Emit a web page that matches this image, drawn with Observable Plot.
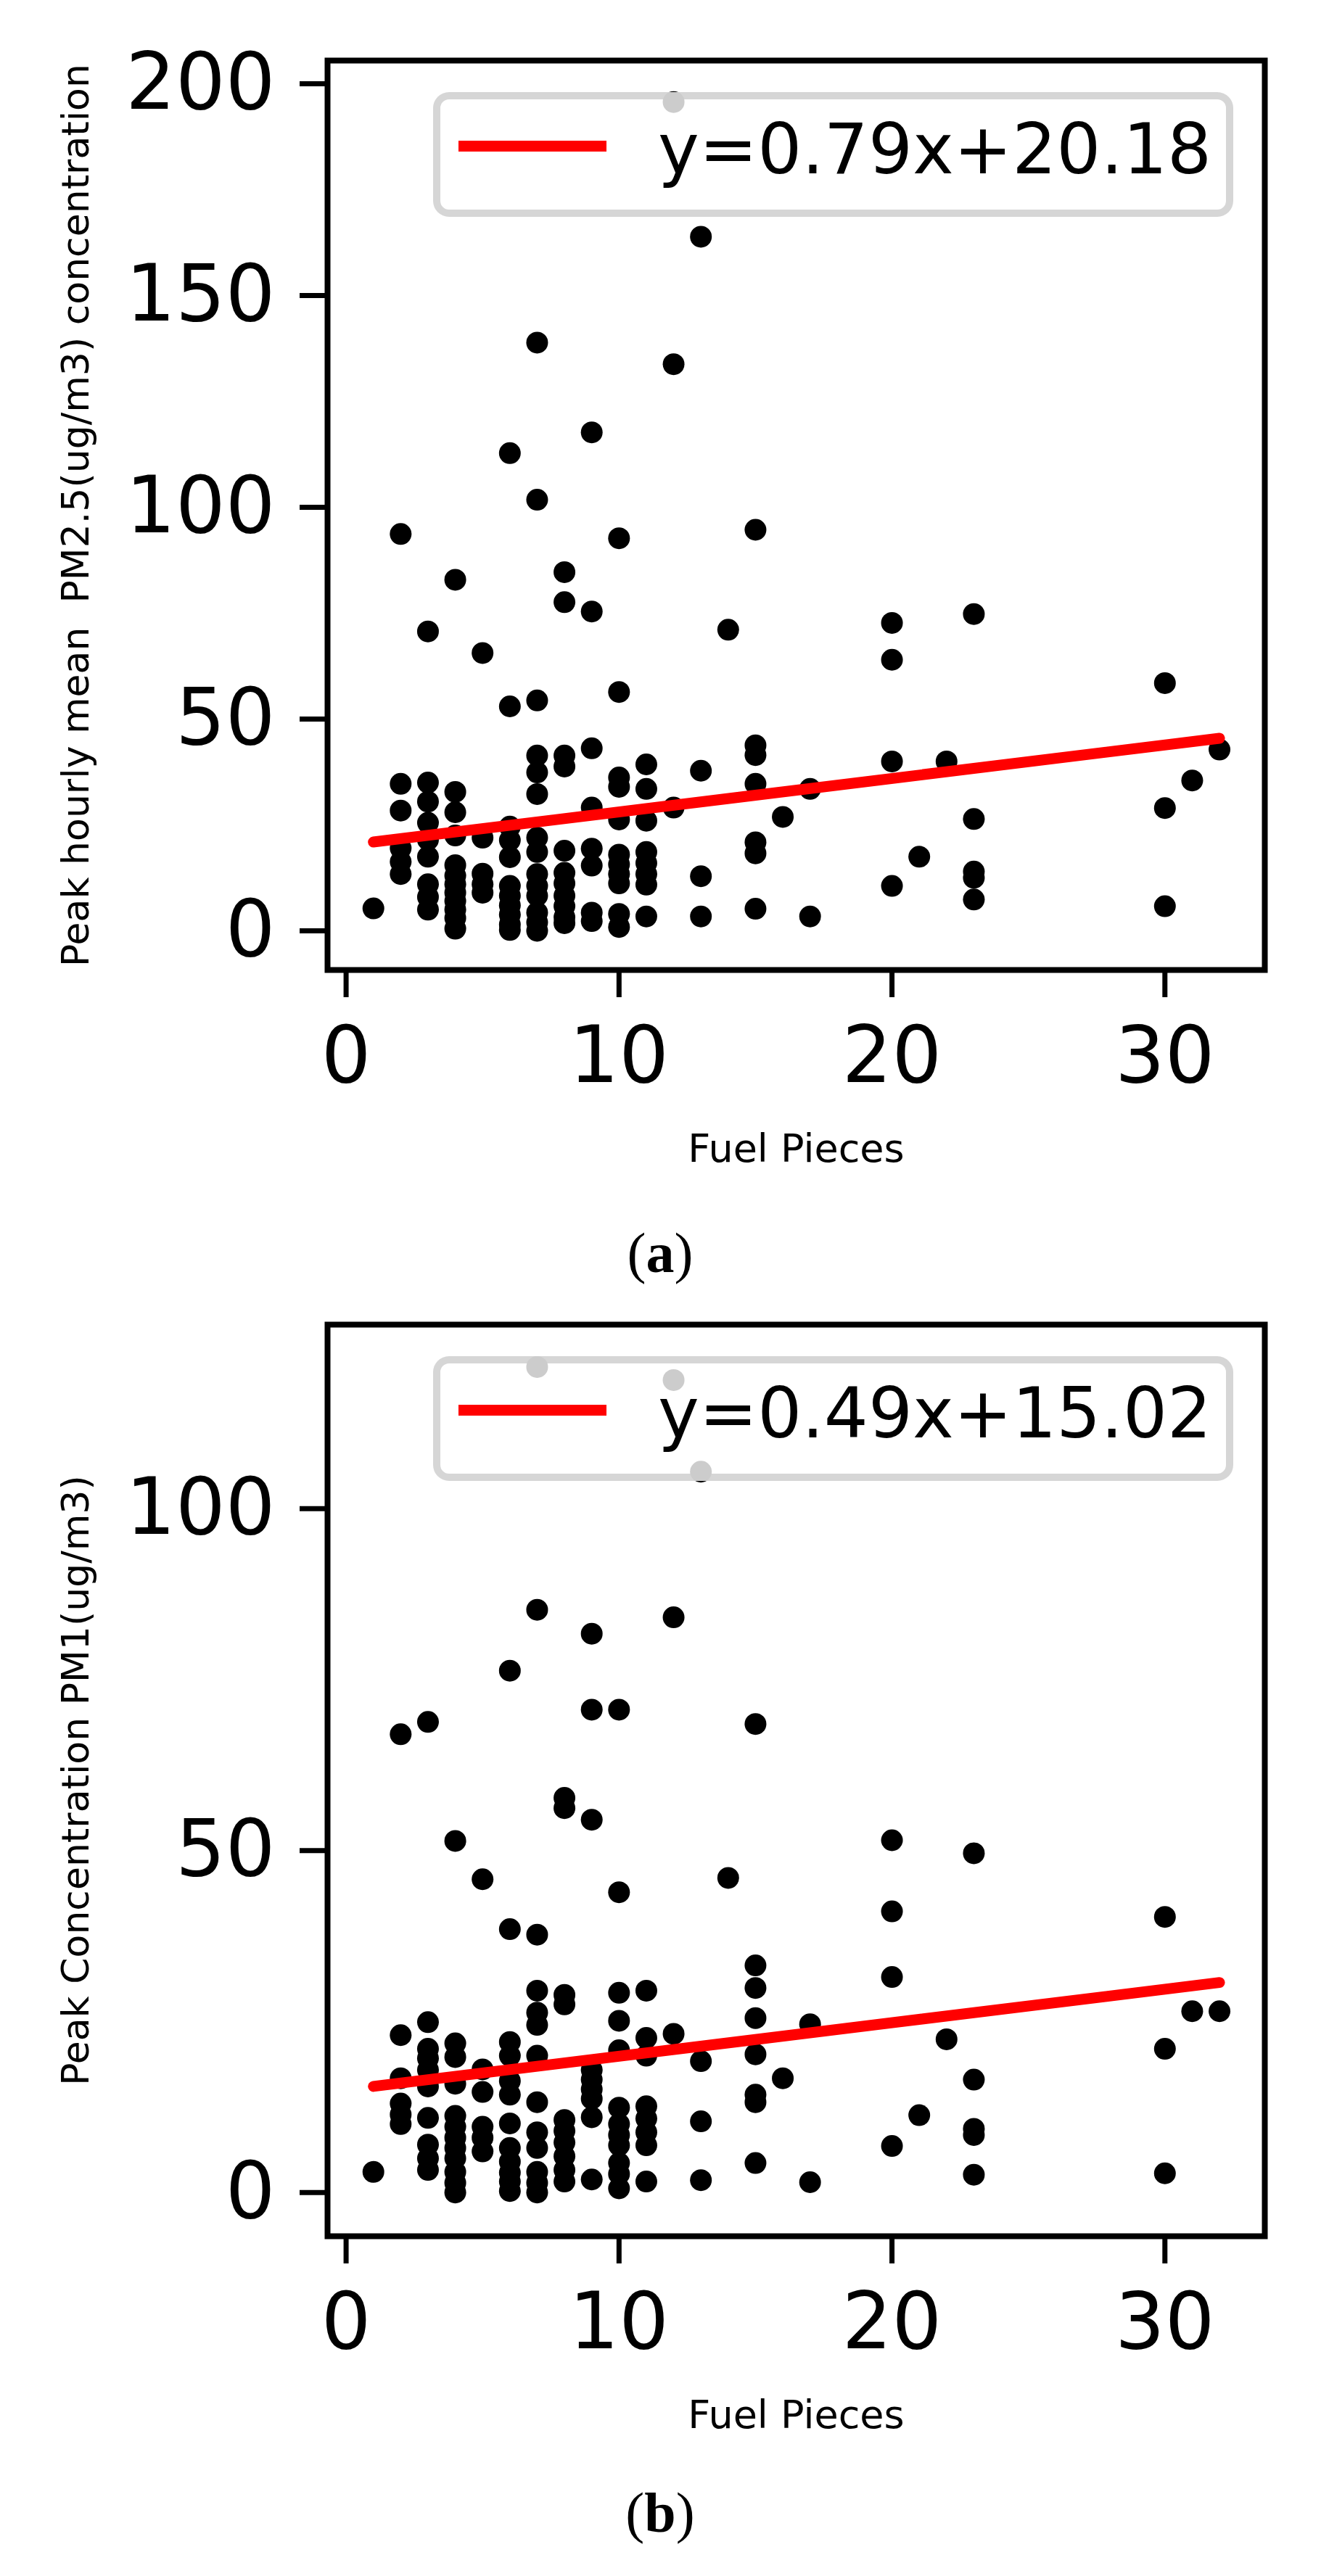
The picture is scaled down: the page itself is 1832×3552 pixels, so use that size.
<!DOCTYPE html>
<html>
<head>
<meta charset="utf-8">
<script src="https://cdn.jsdelivr.net/npm/d3@7"></script>
<script src="https://cdn.jsdelivr.net/npm/@observablehq/plot@0.6"></script>
<style>
html, body { margin: 0; padding: 0; background: #fff; overflow: hidden; }
#page { position: relative; width: 1832px; height: 3552px; background: #fff; overflow: hidden; }
.panel { position: absolute; left: 0; width: 1832px; }
.panel svg { display: block; }
.legend { position: absolute; left: 597px; top: 127px; width: 1103px; height: 172px; box-sizing: border-box;
  border: 10px solid rgba(204,204,204,0.8); border-radius: 22px; background: rgba(255,255,255,0.8); }
.legend .swatch { position: absolute; left: 25px; top: 57px; width: 204px; height: 15px; background: #ff0000; }
.legend .label { position: absolute; left: 300px; top: 21px; font-family: "DejaVu Sans", sans-serif; font-size: 96px;
  line-height: 1; color: #000; white-space: nowrap; }
.caption { position: absolute; left: 0; width: 1820px; text-align: center; font-family: "Liberation Serif", "DejaVu Serif", serif;
  font-size: 78px; line-height: 1; color: #000; }
</style>
</head>
<body>
<div id="page"></div>
<script>
// ---------- Data ----------
// Panel (a): Peak hourly mean PM2.5 vs fuel pieces, grouped by number of fuel pieces
const pm25ByFuel = [
  [1, [5.3]],
  [2, [93.7, 34.7, 28.4, 19.5, 16.3, 13.4]],
  [3, [70.7, 35, 30.5, 25.5, 21.5, 17.5, 11, 8, 5]],
  [4, [82.9, 32.8, 28, 22.5, 15.5, 13, 11, 9, 7, 5, 3, 0.5]],
  [5, [65.6, 22, 13.5, 11, 9]],
  [6, [112.8, 53, 24.6, 21.4, 17.4, 10.6, 8.3, 6, 3.8, 1.5, 0.2]],
  [7, [138.9, 101.8, 54.4, 41.4, 37.4, 32.3, 22, 18.6, 13.4, 10.6, 8.3, 4.3, 2, 0]],
  [8, [84.7, 77.6, 41.4, 38.8, 18.9, 13.7, 11.2, 8.3, 5.8, 3.2, 1.8]],
  [9, [117.7, 75.4, 43.1, 29.1, 19.4, 15.4, 4.3, 2.3]],
  [10, [92.7, 56.4, 36.2, 34, 26.3, 18, 15.7, 13.4, 11.2, 4, 0.9]],
  [11, [39.3, 33.5, 26, 18.6, 16, 13.4, 10.9, 3.4]],
  [12, [195.7, 133.8, 29.1]],
  [13, [163.9, 37.8, 12.9, 3.4]],
  [14, [71.1]],
  [15, [94.7, 43.8, 41.5, 34.7, 20.9, 18.3, 5.2]],
  [16, [26.9]],
  [17, [33.5, 3.4]],
  [20, [72.7, 64, 40, 10.6]],
  [21, [17.5]],
  [22, [40]],
  [23, [74.8, 26.4, 14, 12.5, 7.4]],
  [30, [58.5, 29, 5.8]],
  [31, [35.5]],
  [32, [42.8]]
];
// Panel (b): Peak concentration PM1 vs fuel pieces
const pm1ByFuel = [
  [1, [3.0]],
  [2, [67, 23, 16.7, 13, 11.4, 10]],
  [3, [68.8, 24.9, 21, 19.6, 17.9, 15.5, 10.9, 7, 5, 3.3]],
  [4, [51.4, 21.8, 19.8, 15.9, 11.2, 9.6, 8, 6.5, 5, 3, 1.4, 0]],
  [5, [45.8, 18, 14.7, 9.6, 8, 6]],
  [6, [76.3, 38.5, 22, 20, 16.3, 14.3, 10.1, 6.5, 4.5, 2.9, 1.6, 0.2]],
  [7, [120.7, 85.2, 37.7, 29.5, 26.3, 24.5, 20, 13.2, 8.8, 6.5, 3, 1.4, 0]],
  [8, [57.7, 56.2, 28.9, 27.5, 10.6, 9, 7.3, 5.3, 3.3, 1.6]],
  [9, [81.7, 70.6, 54.5, 17.9, 16.5, 15.1, 13.7, 11, 1.9]],
  [10, [70.6, 43.9, 29.2, 25.1, 20.8, 12.4, 10, 8.4, 6.9, 4.3, 2.7, 0.6]],
  [11, [29.5, 22.6, 20, 12.6, 10.8, 8.8, 6.9, 1.6]],
  [12, [118.8, 84.1, 23.2]],
  [13, [105.4, 19.2, 10.4, 1.8]],
  [14, [46]],
  [15, [68.5, 33.2, 29.9, 25.5, 20.2, 14.3, 13.2, 4.3]],
  [16, [16.7]],
  [17, [24.6, 1.5]],
  [20, [51.5, 41.1, 31.5, 6.8]],
  [21, [11.3]],
  [22, [22.4]],
  [23, [49.6, 16.5, 9.3, 8.4, 2.6]],
  [30, [40.3, 21, 2.8]],
  [31, [26.5]],
  [32, [26.5]]
];
// Fitted regression lines (end points as drawn)
const fitX = [1, 32];
const fitA_Y = [20.97, 45.46];
const fitB_Y = [15.51, 30.70];
const legendA = "y=0.79x+20.18";
const legendB = "y=0.49x+15.02";
// Ticks and labels
const xTicks = [0, 10, 20, 30];
const yTicksA = [0, 50, 100, 150, 200];
const yTicksB = [0, 50, 100];
const xLabel = "Fuel Pieces";
const yLabelA = "Peak hourly mean  PM2.5(ug/m3) concentration";
const yLabelB = "Peak Concentration PM1(ug/m3)";

// ---------- Build ----------
const flatten = groups => groups.flatMap(([x, ys]) => ys.map(y => ({x, y})));
const fitRows = ys => fitX.map((x, i) => ({x, y: ys[i]}));

function panel({data, fit, yDomain, yTicks, yLabel, height}) {
  return Plot.plot({
    width: 1832,
    height,
    marginLeft: 451,
    marginRight: 89,
    marginTop: 83,
    marginBottom: 313,
    style: {fontFamily: '"DejaVu Sans", sans-serif', fontSize: "108px", color: "#000", background: "transparent", overflow: "visible"},
    x: {domain: [-0.68, 33.66]},
    y: {domain: yDomain},
    marks: [
      Plot.dot(data, {x: "x", y: "y", r: 15, fill: "#000", stroke: "none"}),
      Plot.line(fit, {x: "x", y: "y", stroke: "#ff0000", strokeWidth: 15, strokeLinecap: "round"}),
      Plot.frame({stroke: "#000", strokeWidth: 8}),
      Plot.axisX({ticks: xTicks, tickSize: 38, tickPadding: 40, strokeWidth: 7, label: null, fontSize: 108, tickFormat: d => String(d)}),
      Plot.axisY({ticks: yTicks, tickSize: 38, tickPadding: 34, strokeWidth: 7, label: null, fontSize: 108, tickFormat: d => String(d)}),
      Plot.text([xLabel], {frameAnchor: "bottom", dy: 247, textAnchor: "middle", lineAnchor: "middle", fontSize: 54, fill: "#000"}),
      Plot.text([yLabel], {frameAnchor: "left", dx: -346, rotate: -90, textAnchor: "middle", lineAnchor: "middle", fontSize: 52, fill: "#000"})
    ]
  });
}

const page = document.getElementById("page");

function addPanel(top, svg, legendText) {
  const div = document.createElement("div");
  div.className = "panel";
  div.style.top = top + "px";
  div.appendChild(svg);
  const leg = document.createElement("div");
  leg.className = "legend";
  leg.innerHTML = '<div class="swatch"></div><div class="label"></div>';
  leg.querySelector(".label").textContent = legendText;
  div.appendChild(leg);
  page.appendChild(div);
}

addPanel(0, panel({data: flatten(pm25ByFuel), fit: fitRows(fitA_Y), yDomain: [-9.25, 205.5], yTicks: yTicksA, yLabel: yLabelA, height: 1650}), legendA);
addPanel(1743, panel({data: flatten(pm1ByFuel), fit: fitRows(fitB_Y), yDomain: [-6.4, 126.9], yTicks: yTicksB, yLabel: yLabelB, height: 1653}), legendB);

function addCaption(top, letter) {
  const c = document.createElement("div");
  c.className = "caption";
  c.style.top = top + "px";
  c.innerHTML = '(<b></b>)';
  c.querySelector("b").textContent = letter;
  page.appendChild(c);
}
addCaption(1689, "a");
addCaption(3426, "b");
</script>
</body>
</html>
